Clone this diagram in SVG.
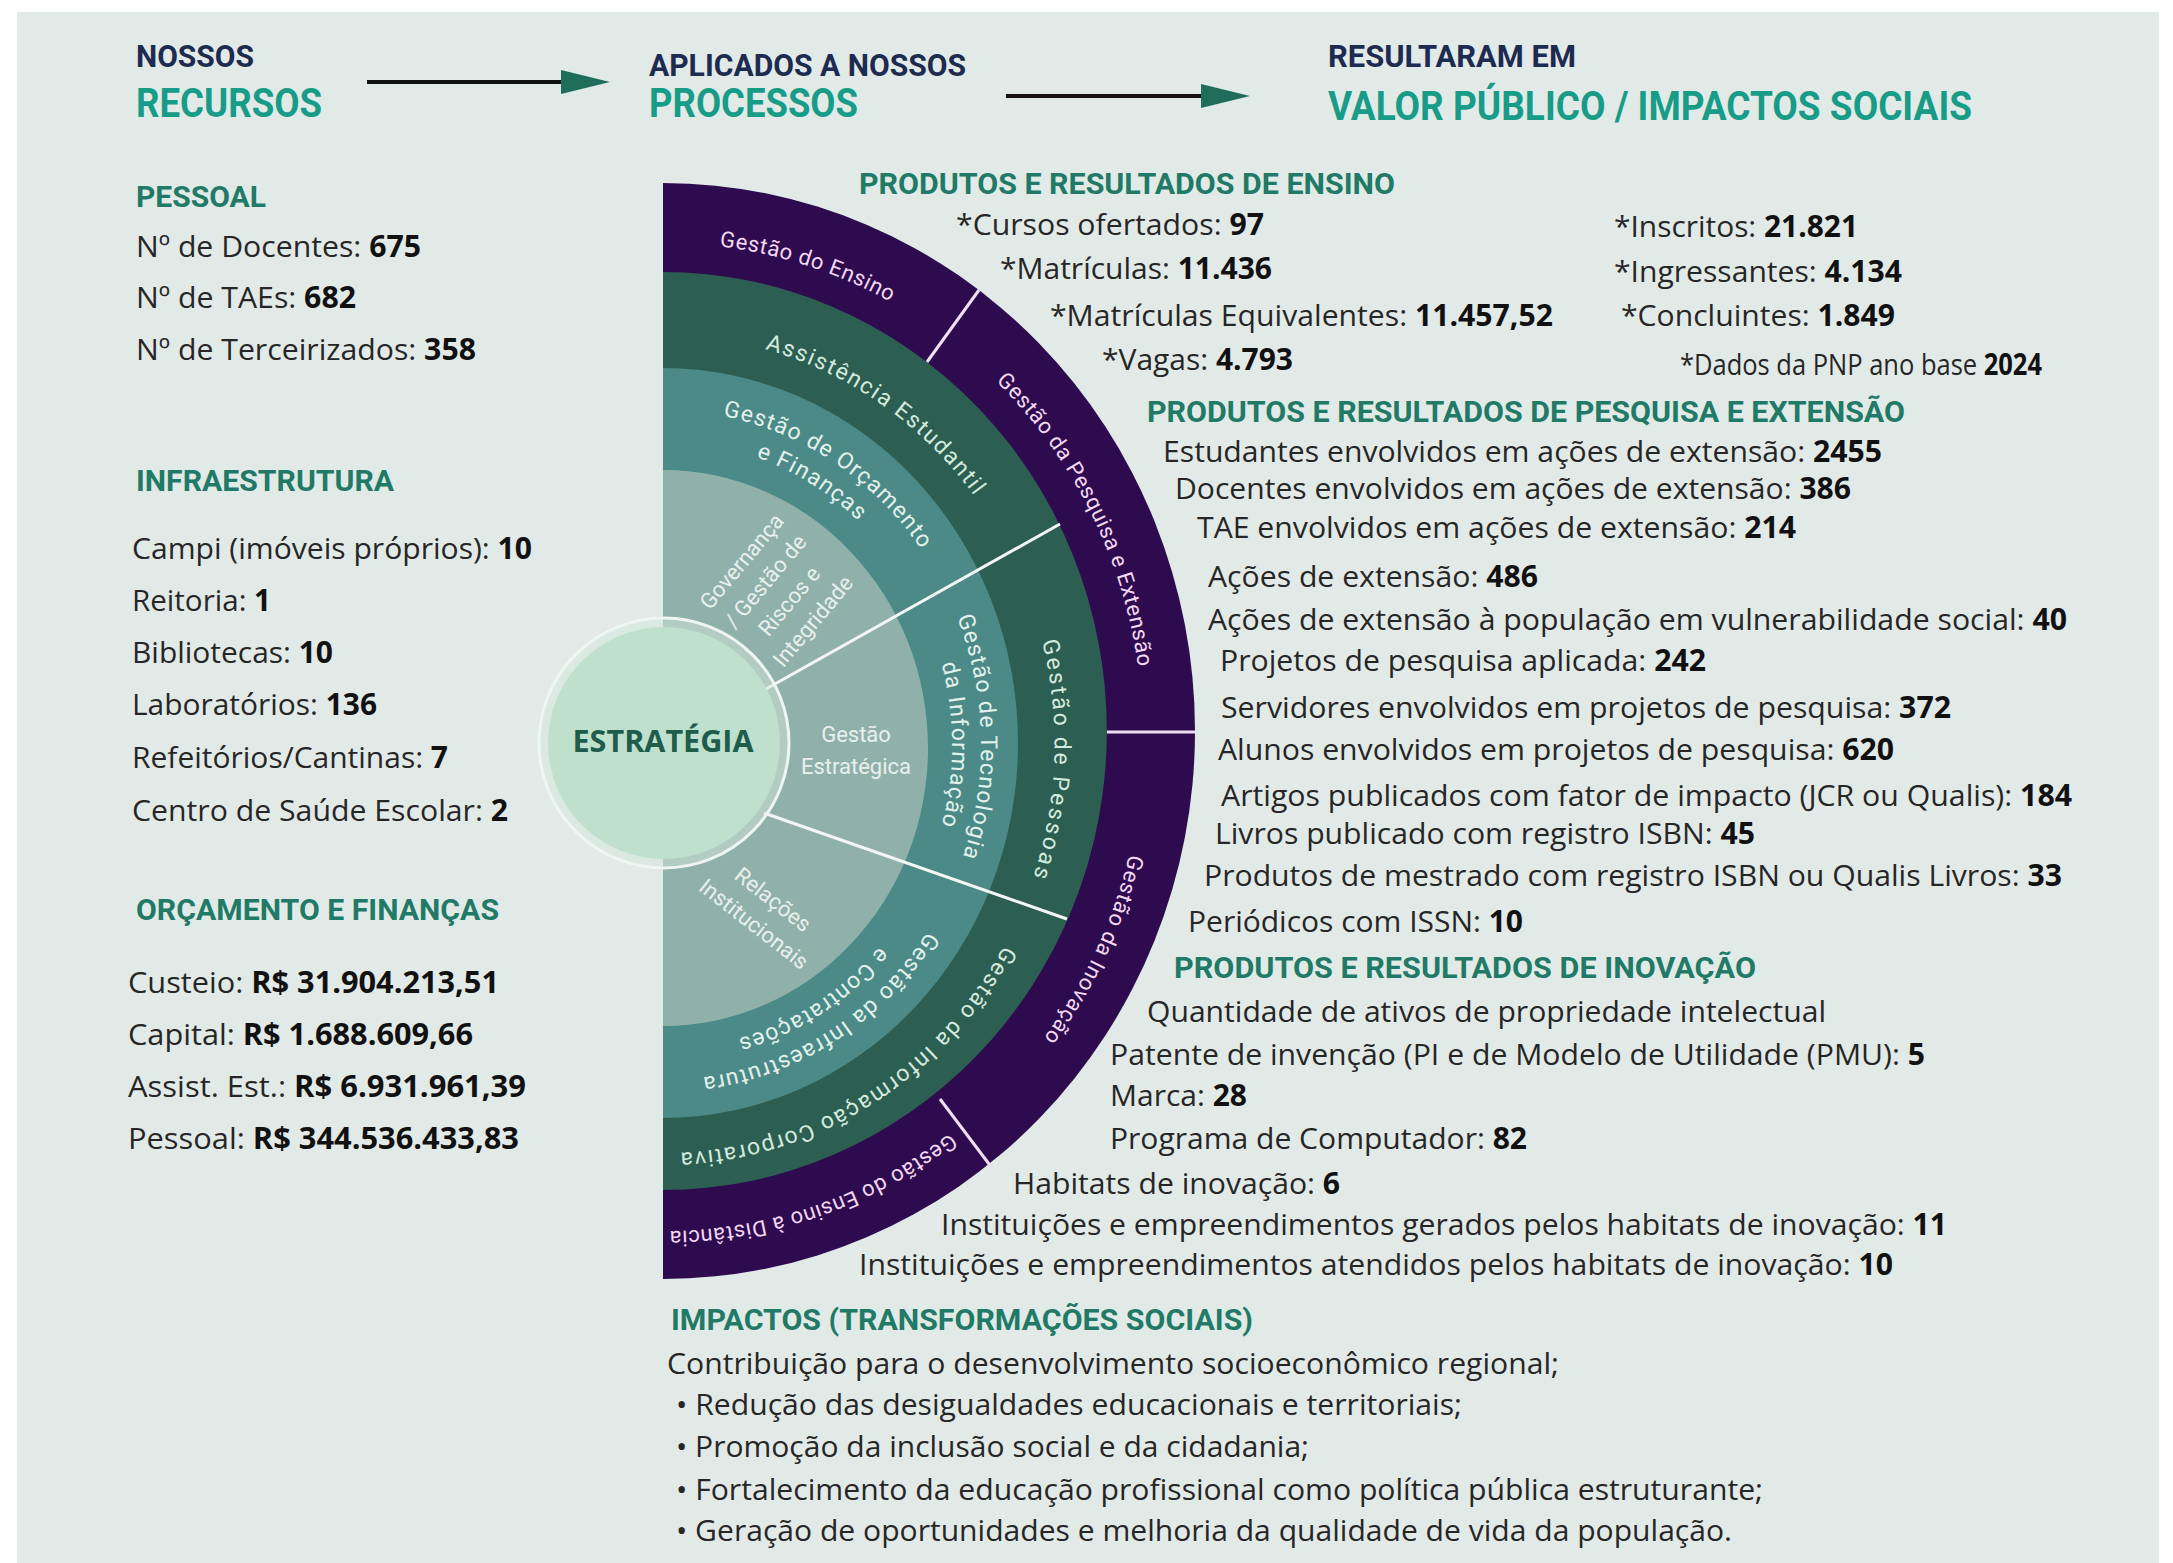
<svg xmlns="http://www.w3.org/2000/svg" width="2173" height="1563" viewBox="0 0 2173 1563">
<defs>
<style>
.bg{fill:#e2eae8}
.tx{font-family:"Open Sans","Liberation Sans",sans-serif;font-size:30px;fill:#262626}
.v{font-weight:700;fill:#111}
.hd{font-family:Roboto,"Liberation Sans",sans-serif;font-weight:700;font-size:30px;fill:#217a66}
.t1{font-family:Roboto,"Liberation Sans",sans-serif;font-weight:700;font-size:31px;fill:#1d2b50}
.t2{font-family:Roboto,"Liberation Sans",sans-serif;font-weight:700;font-size:40px;fill:#179c88}
.rl{font-family:Roboto,"Liberation Sans",sans-serif;font-size:22px}
.rp{fill:#f2d8f2;letter-spacing:0.6px}
.rg{fill:#d3eadf;font-size:23px;letter-spacing:1.6px}
.rt{fill:#e2f1ec;font-size:23px;letter-spacing:1.2px}
.rli{fill:#e8f0ed}
.dv{stroke:#f4f6f5;stroke-width:3;fill:none}
.dvp{stroke:#efdff0;stroke-width:3;fill:none}
.cl{stroke:#111;stroke-width:4;fill:none}
</style>
<marker id="ah" markerUnits="userSpaceOnUse" markerWidth="50" markerHeight="26" refX="9" refY="12" orient="auto">
<path d="M0,0 L49,12 L0,24 Z" fill="#1f6e5c"/>
</marker>
<path id="pP" d="M579.65,250.5 A480,494 0 1 1 579.65,1223.5"/>
<path id="pG" d="M595.02,341.21 A391.5,409 0 1 1 595.02,1146.79"/>
<path id="pT1" d="M607.78,415.09 A318,335 0 1 1 607.78,1074.91"/>
<path id="pT2" d="M612.82,445.62 A289,304 0 1 1 612.82,1044.38"/>
</defs>

<rect x="0" y="0" width="2173" height="1563" fill="#ffffff"/>
<rect class="bg" x="17" y="12" width="2142" height="1560"/>

<g id="header">
<text class="t1" x="136" y="67" textLength="118" lengthAdjust="spacingAndGlyphs">NOSSOS</text>
<text class="t2" x="136" y="117" textLength="186" lengthAdjust="spacingAndGlyphs">RECURSOS</text>
<text class="t1" x="649" y="76" textLength="317" lengthAdjust="spacingAndGlyphs">APLICADOS A NOSSOS</text>
<text class="t2" x="649" y="117" textLength="209" lengthAdjust="spacingAndGlyphs">PROCESSOS</text>
<text class="t1" x="1328" y="67" textLength="248" lengthAdjust="spacingAndGlyphs">RESULTARAM EM</text>
<text class="t2" x="1328" y="120" textLength="644" lengthAdjust="spacingAndGlyphs">VALOR PÚBLICO / IMPACTOS SOCIAIS</text>
</g>

<g id="connectors">
<line class="cl" x1="367" y1="82" x2="570" y2="82" marker-end="url(#ah)"/>
<line class="cl" x1="1006" y1="96" x2="1210" y2="96" marker-end="url(#ah)"/>
</g>

<g id="pessoal">
<text class="hd" x="136" y="207" textLength="130" lengthAdjust="spacingAndGlyphs">PESSOAL</text>
<text class="tx" x="136" y="257" textLength="285" lengthAdjust="spacingAndGlyphs">Nº de Docentes: <tspan class="v">675</tspan></text>
<text class="tx" x="136" y="308" textLength="220" lengthAdjust="spacingAndGlyphs">Nº de TAEs: <tspan class="v">682</tspan></text>
<text class="tx" x="136" y="360" textLength="340" lengthAdjust="spacingAndGlyphs">Nº de Terceirizados: <tspan class="v">358</tspan></text>
</g>

<g id="infraestrutura">
<text class="hd" x="136" y="491" textLength="258" lengthAdjust="spacingAndGlyphs">INFRAESTRUTURA</text>
<text class="tx" x="132" y="559" textLength="400" lengthAdjust="spacingAndGlyphs">Campi (imóveis próprios): <tspan class="v">10</tspan></text>
<text class="tx" x="132" y="611" textLength="139" lengthAdjust="spacingAndGlyphs">Reitoria: <tspan class="v">1</tspan></text>
<text class="tx" x="132" y="663" textLength="201" lengthAdjust="spacingAndGlyphs">Bibliotecas: <tspan class="v">10</tspan></text>
<text class="tx" x="132" y="715" textLength="245" lengthAdjust="spacingAndGlyphs">Laboratórios: <tspan class="v">136</tspan></text>
<text class="tx" x="132" y="768" textLength="316" lengthAdjust="spacingAndGlyphs">Refeitórios/Cantinas: <tspan class="v">7</tspan></text>
<text class="tx" x="132" y="821" textLength="376" lengthAdjust="spacingAndGlyphs">Centro de Saúde Escolar: <tspan class="v">2</tspan></text>
</g>

<g id="orcamento">
<text class="hd" x="136" y="920" textLength="363" lengthAdjust="spacingAndGlyphs">ORÇAMENTO E FINANÇAS</text>
<text class="tx" x="128" y="993" textLength="371" lengthAdjust="spacingAndGlyphs">Custeio: <tspan class="v">R$ 31.904.213,51</tspan></text>
<text class="tx" x="128" y="1045" textLength="345" lengthAdjust="spacingAndGlyphs">Capital: <tspan class="v">R$ 1.688.609,66</tspan></text>
<text class="tx" x="128" y="1097" textLength="398" lengthAdjust="spacingAndGlyphs">Assist. Est.: <tspan class="v">R$ 6.931.961,39</tspan></text>
<text class="tx" x="128" y="1149" textLength="391" lengthAdjust="spacingAndGlyphs">Pessoal: <tspan class="v">R$ 344.536.433,83</tspan></text>
</g>

<g id="wheel">
<g id="ring-purple"><path d="M663,183 A532,548 0 0 1 663,1279 Z" fill="#2e0b4f"/></g>
<g id="ring-green"><path d="M663,272 A444,459 0 0 1 663,1190 Z" fill="#2c5e51"/></g>
<g id="ring-teal"><path d="M663,368 A355,375 0 0 1 663,1118 Z" fill="#4b8a87"/></g>
<g id="ring-light"><path d="M663,470 A265,278 0 0 1 663,1026 Z" fill="#90b1a9"/></g>
<g id="dividers">
<line class="dvp" x1="927" y1="362" x2="979" y2="290"/>
<line class="dv" x1="766" y1="689" x2="1060" y2="524"/>
<line class="dv" x1="764" y1="813" x2="1067" y2="919"/>
<line class="dvp" x1="1107" y1="732" x2="1196" y2="732"/>
<line class="dvp" x1="940" y1="1099" x2="992" y2="1168"/>
</g>
<g id="estrategia">
<circle cx="664" cy="743" r="125" fill="#d3e7dd" fill-opacity="0.5" stroke="#eef5f2" stroke-width="3"/>
<circle cx="664" cy="743" r="116" fill="#bfe0cd"/>
<text x="663" y="752" text-anchor="middle" font-family="'Open Sans','Liberation Sans',sans-serif" font-weight="700" font-size="30" fill="#1e5c4c" textLength="181" lengthAdjust="spacingAndGlyphs">ESTRATÉGIA</text>
</g>
<g id="seg-gestao-ensino"><text class="rl rp"><textPath href="#pP" startOffset="13.6%" text-anchor="middle">Gestão do Ensino</textPath></text></g>
<g id="seg-pesquisa"><text class="rl rp"><textPath href="#pP" startOffset="36.3%" text-anchor="middle">Gestão da Pesquisa e Extensão</textPath></text></g>
<g id="seg-inovacao"><text class="rl rp"><textPath href="#pP" startOffset="63%" text-anchor="middle">Gestão da Inovação</textPath></text></g>
<g id="seg-ead"><text class="rl rp"><textPath href="#pP" startOffset="85.8%" text-anchor="middle">Gestão do Ensino à Distância</textPath></text></g>
<g id="seg-assistencia"><text class="rl rg"><textPath href="#pG" startOffset="21.7%" text-anchor="middle">Assistência Estudantil</textPath></text></g>
<g id="seg-pessoas"><text class="rl rg" style="letter-spacing:2.6px"><textPath href="#pG" startOffset="51.2%" text-anchor="middle">Gestão de Pessoas</textPath></text></g>
<g id="seg-informacao"><text class="rl rg"><textPath href="#pG" startOffset="79.5%" text-anchor="middle">Gestão da Informação Corporativa</textPath></text></g>
<g id="seg-orcamento">
<text class="rl rt"><textPath href="#pT1" startOffset="21%" text-anchor="middle">Gestão de Orçamento</textPath></text>
<text class="rl rt"><textPath href="#pT2" startOffset="20%" text-anchor="middle">e Finanças</textPath></text>
</g>
<g id="seg-ti">
<text class="rl rt"><textPath href="#pT1" startOffset="49.3%" text-anchor="middle">Gestão de Tecnologia</textPath></text>
<text class="rl rt"><textPath href="#pT2" startOffset="50%" text-anchor="middle">da Informação</textPath></text>
</g>
<g id="seg-infra">
<text class="rl rt"><textPath href="#pT1" startOffset="79.5%" text-anchor="middle">Gestão da Infraestrutura</textPath></text>
<text class="rl rt"><textPath href="#pT2" startOffset="79.5%" text-anchor="middle">e Contratações</textPath></text>
</g>
<g id="seg-governanca">
<text class="rl rli" transform="translate(777,591) rotate(-50)" text-anchor="middle"><tspan x="0" y="-38.5">Governança</tspan><tspan x="0" y="-7.5">/ Gestão de</tspan><tspan x="0" y="23.5">Riscos e</tspan><tspan x="0" y="54.5">Integridade</tspan></text>
</g>
<g id="seg-estrategica">
<text class="rl rli" text-anchor="middle"><tspan x="856" y="742">Gestão</tspan><tspan x="856" y="774">Estratégica</tspan></text>
</g>
<g id="seg-relacoes">
<text class="rl rli" transform="translate(764,911) rotate(38)" text-anchor="middle"><tspan x="0" y="-7">Relações</tspan><tspan x="0" y="24">Institucionais</tspan></text>
</g>
</g>

<g id="ensino">
<text class="hd" x="859" y="194" textLength="536" lengthAdjust="spacingAndGlyphs">PRODUTOS E RESULTADOS DE ENSINO</text>
<text class="tx" x="956" y="235" textLength="308" lengthAdjust="spacingAndGlyphs">*Cursos ofertados: <tspan class="v">97</tspan></text>
<text class="tx" x="1000" y="279" textLength="272" lengthAdjust="spacingAndGlyphs">*Matrículas: <tspan class="v">11.436</tspan></text>
<text class="tx" x="1050" y="326" textLength="503" lengthAdjust="spacingAndGlyphs">*Matrículas Equivalentes: <tspan class="v">11.457,52</tspan></text>
<text class="tx" x="1102" y="370" textLength="191" lengthAdjust="spacingAndGlyphs">*Vagas: <tspan class="v">4.793</tspan></text>
<text class="tx" x="1614" y="237" textLength="244" lengthAdjust="spacingAndGlyphs">*Inscritos: <tspan class="v">21.821</tspan></text>
<text class="tx" x="1614" y="282" textLength="288" lengthAdjust="spacingAndGlyphs">*Ingressantes: <tspan class="v">4.134</tspan></text>
<text class="tx" x="1621" y="326" textLength="274" lengthAdjust="spacingAndGlyphs">*Concluintes: <tspan class="v">1.849</tspan></text>
<text class="tx" x="1680" y="375" font-size="22" textLength="362" lengthAdjust="spacingAndGlyphs">*Dados da PNP ano base <tspan class="v">2024</tspan></text>
</g>

<g id="pesquisa">
<text class="hd" x="1147" y="422" textLength="758" lengthAdjust="spacingAndGlyphs">PRODUTOS E RESULTADOS DE PESQUISA E EXTENSÃO</text>
<text class="tx" x="1163" y="462" textLength="719" lengthAdjust="spacingAndGlyphs">Estudantes envolvidos em ações de extensão: <tspan class="v">2455</tspan></text>
<text class="tx" x="1175" y="499" textLength="676" lengthAdjust="spacingAndGlyphs">Docentes envolvidos em ações de extensão: <tspan class="v">386</tspan></text>
<text class="tx" x="1197" y="538" textLength="599" lengthAdjust="spacingAndGlyphs">TAE envolvidos em ações de extensão: <tspan class="v">214</tspan></text>
<text class="tx" x="1208" y="587" textLength="330" lengthAdjust="spacingAndGlyphs">Ações de extensão: <tspan class="v">486</tspan></text>
<text class="tx" x="1208" y="630" textLength="859" lengthAdjust="spacingAndGlyphs">Ações de extensão à população em vulnerabilidade social: <tspan class="v">40</tspan></text>
<text class="tx" x="1220" y="671" textLength="486" lengthAdjust="spacingAndGlyphs">Projetos de pesquisa aplicada: <tspan class="v">242</tspan></text>
<text class="tx" x="1221" y="718" textLength="730" lengthAdjust="spacingAndGlyphs">Servidores envolvidos em projetos de pesquisa: <tspan class="v">372</tspan></text>
<text class="tx" x="1218" y="760" textLength="676" lengthAdjust="spacingAndGlyphs">Alunos envolvidos em projetos de pesquisa: <tspan class="v">620</tspan></text>
<text class="tx" x="1221" y="806" textLength="851" lengthAdjust="spacingAndGlyphs">Artigos publicados com fator de impacto (JCR ou Qualis): <tspan class="v">184</tspan></text>
<text class="tx" x="1215" y="844" textLength="540" lengthAdjust="spacingAndGlyphs">Livros publicado com registro ISBN: <tspan class="v">45</tspan></text>
<text class="tx" x="1204" y="886" textLength="858" lengthAdjust="spacingAndGlyphs">Produtos de mestrado com registro ISBN ou Qualis Livros: <tspan class="v">33</tspan></text>
<text class="tx" x="1188" y="932" textLength="335" lengthAdjust="spacingAndGlyphs">Periódicos com ISSN: <tspan class="v">10</tspan></text>
</g>

<g id="inovacao">
<text class="hd" x="1174" y="978" textLength="582" lengthAdjust="spacingAndGlyphs">PRODUTOS E RESULTADOS DE INOVAÇÃO</text>
<text class="tx" x="1147" y="1022" textLength="679" lengthAdjust="spacingAndGlyphs">Quantidade de ativos de propriedade intelectual</text>
<text class="tx" x="1110" y="1065" textLength="815" lengthAdjust="spacingAndGlyphs">Patente de invenção (PI e de Modelo de Utilidade (PMU): <tspan class="v">5</tspan></text>
<text class="tx" x="1110" y="1106" textLength="137" lengthAdjust="spacingAndGlyphs">Marca: <tspan class="v">28</tspan></text>
<text class="tx" x="1110" y="1149" textLength="417" lengthAdjust="spacingAndGlyphs">Programa de Computador: <tspan class="v">82</tspan></text>
<text class="tx" x="1013" y="1194" textLength="327" lengthAdjust="spacingAndGlyphs">Habitats de inovação: <tspan class="v">6</tspan></text>
<text class="tx" x="941" y="1235" textLength="1006" lengthAdjust="spacingAndGlyphs">Instituições e empreendimentos gerados pelos habitats de inovação: <tspan class="v">11</tspan></text>
<text class="tx" x="859" y="1275" textLength="1034" lengthAdjust="spacingAndGlyphs">Instituições e empreendimentos atendidos pelos habitats de inovação: <tspan class="v">10</tspan></text>
</g>

<g id="impactos">
<text class="hd" x="671" y="1330" textLength="582" lengthAdjust="spacingAndGlyphs">IMPACTOS (TRANSFORMAÇÕES SOCIAIS)</text>
<text class="tx" x="667" y="1374" textLength="892" lengthAdjust="spacingAndGlyphs">Contribuição para o desenvolvimento socioeconômico regional;</text>
<text class="tx" x="676" y="1415" textLength="786" lengthAdjust="spacingAndGlyphs">• Redução das desigualdades educacionais e territoriais;</text>
<text class="tx" x="676" y="1457" textLength="633" lengthAdjust="spacingAndGlyphs">• Promoção da inclusão social e da cidadania;</text>
<text class="tx" x="676" y="1500" textLength="1087" lengthAdjust="spacingAndGlyphs">• Fortalecimento da educação profissional como política pública estruturante;</text>
<text class="tx" x="676" y="1541" textLength="1056" lengthAdjust="spacingAndGlyphs">• Geração de oportunidades e melhoria da qualidade de vida da população.</text>
</g>
</svg>
